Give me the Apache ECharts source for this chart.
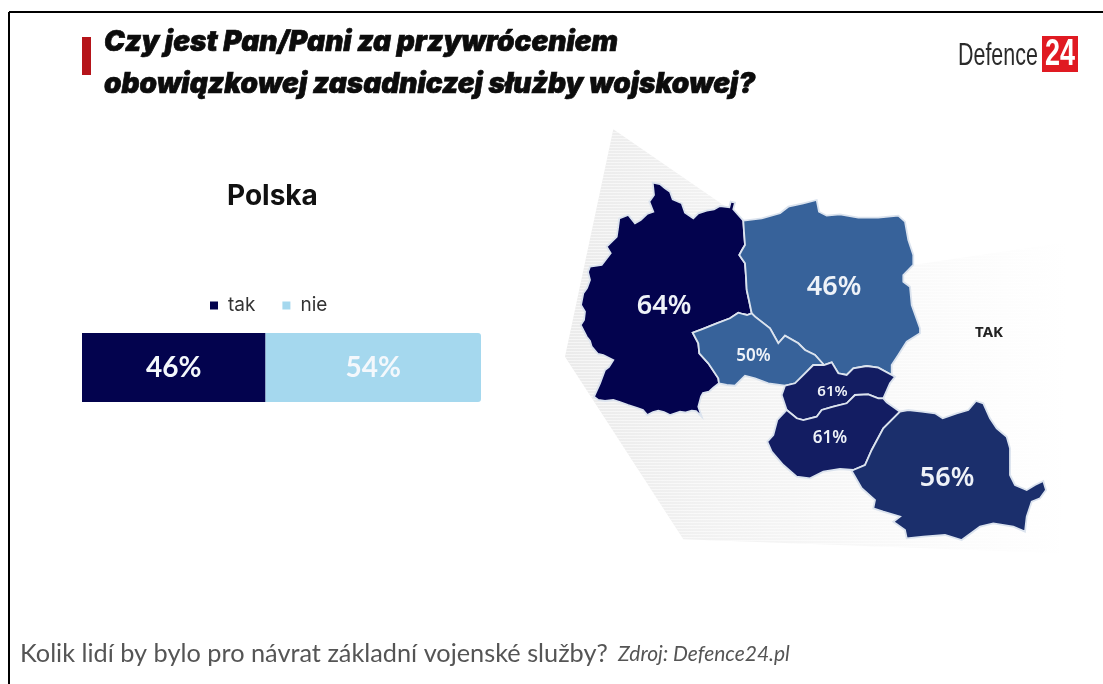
<!DOCTYPE html>
<html><head><meta charset="utf-8">
<style>html,body{margin:0;padding:0;background:#fff}#c{width:1103px;height:684px;filter:blur(0.45px)}</style>
<script src="https://cdn.jsdelivr.net/npm/echarts@6/dist/echarts.min.js"></script>
</head><body><div id="c"></div>
<script>
// --- values
const answers = ['tak', 'nie'];
const polandTak = [46];
const polandNie = [54];
const answerColors = ['#03034e', '#a5d8ee'];
const countries = ['Niemcy', 'Polska', 'Czechy', 'Słowacja', 'Węgry', 'Rumunia'];
const takValues = [64, 46, 50, 61, 61, 56];
const countryColors = ['#03034e', '#37629a', '#37629a', '#131d62', '#131d62', '#1b2f6c'];
const labelSizes = [27, 27, 17, 15, 17, 27];
const titleLines = ['Czy jest Pan/Pani za przywróceniem', 'obowiązkowej zasadniczej służby wojskowej?'];
const caption = 'Kolik lidí by bylo pro návrat základní vojenské služby?';
const source = 'Zdroj: Defence24.pl';

// --- shared borders of the map regions (traced outlines)
const gerPol = [[751.7,313.3],[749.3,301.7],[746.7,290],[746,276.7],[745,263.3],[742,259],[739.3,255],[742,250],[745,245],[744,231.7],[743.3,220.7]];
const gerCze = [[751.7,313.3],[747,315],[742.7,314],[738.3,312.7],[730,318.3],[716.7,323.3],[701.7,329.3],[692.7,332.7],[698.3,343.3],[699.3,353.3],[708.3,363.3],[718.3,378.3],[719,383.3]];
const polCze = [[751.7,313.3],[755,316.7],[770,328.3],[778.3,343.3],[785,335.7],[798.3,343.3],[805,350],[815,355],[824,365]];
const czeSlk = [[824,365],[813.3,365],[805,373.3],[795,383.3],[785,385.7]];
const polSlk = [[824,365],[831.7,362.3],[838.3,373.3],[846.7,375],[853.3,368.3],[866.7,366],[878.3,367.7],[895,376.7]];
const slkHun = [[883.3,398.3],[878.3,398.3],[868.3,394.3],[855,395],[846.7,403.3],[833.3,406.7],[821.7,410],[816.7,416.7],[803.3,420],[796.7,418.3],[786.7,410]];
const hunRom = [[900,411.7],[883.3,428.3],[871.7,450],[865,465],[853.3,470]];
const rev = a => a.slice().reverse();

const outlines = {
  'TAK': [[613.3,129.3],[745,220],[913,265],[1068,242],[1060,553.3],[683.3,539.3],[565,356.7]],
  'Niemcy': [[652.7,182.7],[660,184],[665,188.3],[670,191.7],[672.7,199.3],[681.7,203.3],[685,212.7],[693.3,218.3],[698.3,213.3],[706.7,210.7],[714,209.3],[720,206],[729.3,207.3],[730.7,201.7],[735,202.7],[733.3,209.3],[738.3,215]]
    .concat(rev(gerPol), gerCze.slice(1),
    [[713,388],[709,391.7],[703,393],[701,396.7],[698.3,406.7],[701.7,416.7],[696,411],[691.7,410.7],[685,412.5],[680,411.7],[670,415],[664,412],[658.3,410.7],[653,412],[647.3,415],[643,410],[638.3,408.3],[628.3,405],[620,402],[613.3,400],[605,401],[598.3,400],[594,396.7],[600,383.3],[605,370],[609,367],[613.3,360],[603.3,355],[598,354],[591.7,346.7],[590,341],[586.7,336.7],[580.7,325],[584,320],[585,311.7],[581,305],[583.3,293.3],[587,288],[590,280],[588,272],[590,266.7],[601.7,265],[610.7,253.3],[606.7,246.7],[616.7,236.7],[618,228],[619.3,218.3],[628.3,215],[635,223.3],[640.7,220],[647,214],[653.3,211.7],[649.3,201.7],[654,195]]),
  'Polska': gerPol.concat(
    [[761.7,218.3],[780,213.3],[788.3,206.7],[803.3,203.3],[816.7,200],[819,211.7],[826.7,215.7],[840,214.3],[858.3,217.7],[878.3,217.7],[898.3,215.7],[905,221.7],[908.3,240],[913.3,255],[913.3,265],[903.3,275],[903.3,281.7],[910,286.7],[911.7,305],[920,328.3],[920,333.3],[906.7,341.7],[898.3,355],[891.7,365],[891.7,375]],
    rev(polSlk), rev(polCze).slice(1)),
  'Czechy': polCze.concat(czeSlk.slice(1),
    [[768.3,383.3],[755,378.3],[745,375.7],[735,385.7],[726.7,385]], rev(gerCze).slice(0,-1)),
  'Słowacja': [[781.7,395]].concat(rev(czeSlk), polSlk.slice(1), [[890,383.3],[883.3,398.3]], slkHun.slice(1)),
  'Węgry': slkHun.concat(
    [[777.3,420],[773.3,435],[767.3,441.7],[771.7,451.7],[783.3,465],[796.7,476.7],[810,478.3],[823.3,471.7],[840,469]],
    rev(hunRom), [[886.7,402.3]]),
  'Rumunia': hunRom.concat(
    [[851.7,471],[861.7,488.3],[875,500],[873.3,508.3],[883.3,511.7],[900,516.7],[893.3,521.7],[905,530],[906.7,538.3],[923.3,536.7],[945,535],[961.7,540],[980,526.7],[993.3,523.3],[1013.3,526.7],[1025,531.7],[1026.7,516.7],[1031.7,501.7],[1040,498.3],[1046,490],[1043.3,481],[1035,485],[1026.7,490],[1015,485],[1010,475],[1010,448.3],[1006.7,436.7],[996.7,428.3],[990,418.3],[983.3,403.3],[976,401],[968.3,410],[956.7,413.3],[942.7,418.3],[935,413.3],[921.7,411.7],[908.3,410]])
};
const labelAnchors = {'TAK':[989,333],'Niemcy':[664,306],'Polska':[834,287],'Czechy':[753.5,356],'Słowacja':[832.5,392],'Węgry':[830,438],'Rumunia':[947,478]};

const geojson = {type:'FeatureCollection',features:Object.keys(outlines).map(n=>({
  type:'Feature',properties:{name:n,cp:labelAnchors[n]},
  geometry:{type:'Polygon',coordinates:[outlines[n].concat([outlines[n][0]])]}
}))};
echarts.registerMap('region', geojson);

const chart = echarts.init(document.getElementById('c'), null, {renderer:'canvas'});
const bodyFont = '"Noto Sans", sans-serif';
const barLabel = {show:true, position:'inside', color:'#f4f8fc', fontFamily:'Lato, sans-serif', fontWeight:700, fontSize:28, formatter:'{c}%'};
const titleStyle = {fontFamily:'Inter',fontStyle:'italic',fontWeight:900,fontSize:28,color:'#0c0c0c',textBorderColor:'#0c0c0c',textBorderWidth:0.7};

chart.setOption({
  animation:false,
  backgroundColor:'#ffffff',
  title:[
    {text:titleLines[0],left:104,top:29,padding:0,textStyle:titleStyle},
    {text:titleLines[1],left:104,top:71,padding:0,textStyle:titleStyle},
    {text:'Polska',left:227,top:183,padding:0,textStyle:{fontFamily:'Inter',fontWeight:700,fontSize:28,color:'#111'}}
  ],
  legend:{data:answers,left:210,top:296,padding:0,icon:'rect',itemWidth:8,itemHeight:8,itemGap:27,selectedMode:false,
    textStyle:{fontFamily:'Inter',fontSize:19,color:'#333',padding:[0,0,0,5]}},
  grid:{left:82,width:399,top:333,height:69},
  xAxis:{type:'value',min:0,max:100,show:false},
  yAxis:{type:'category',data:['Polska'],show:false},
  series:[
    {name:answers[0],type:'bar',stack:'p',barWidth:'100%',data:polandTak,itemStyle:{color:answerColors[0]},label:barLabel},
    {name:answers[1],type:'bar',stack:'p',barWidth:'100%',data:polandNie,itemStyle:{color:answerColors[1],borderRadius:[0,3,3,0]},label:barLabel},
    {type:'map',map:'region',projection:{project:p=>p,unproject:p=>p},aspectScale:1,roam:false,silent:true,showLegendSymbol:false,
      left:565,top:129.3,width:503,height:424,
      itemStyle:{borderColor:'#dbe3ee',borderWidth:1.8},
      emphasis:{disabled:true},select:{disabled:true},
      data:[{name:'TAK',value:0,
          itemStyle:{borderWidth:0,decal:{symbol:'rect',symbolSize:1,dashArrayX:[[1,0]],dashArrayY:[1,2],rotation:0,color:'rgba(255,255,255,0.55)'},
            areaColor:{type:'linear',x:0,y:0,x2:1,y2:0,colorStops:[{offset:0,color:'#ebebeb'},{offset:0.35,color:'#f3f3f3'},{offset:0.75,color:'#fbfbfb'},{offset:1,color:'#ffffff'}]}},
          label:{show:true,formatter:'TAK',color:'#222',fontFamily:bodyFont,fontWeight:700,fontSize:15}}]
        .concat(countries.map((n,i)=>({name:n,value:takValues[i],itemStyle:{areaColor:countryColors[i]},
          label:{show:true,formatter:'{c}%',color:'#eef2f8',fontFamily:bodyFont,fontWeight:600,fontSize:labelSizes[i]}})))
    }
  ],
  graphic:[
    {type:'line',shape:{x1:9,y1:12,x2:1103,y2:12},style:{stroke:'#000',lineWidth:2}},
    {type:'line',shape:{x1:9,y1:12,x2:9,y2:684},style:{stroke:'#000',lineWidth:2}},
    {type:'rect',shape:{x:82,y:37,width:9,height:38},style:{fill:'#b5141a'}},
    {type:'text',x:958,y:40,scaleX:0.67,style:{text:'Defence',fontFamily:'"Liberation Sans"',fontSize:32,fill:'#2a2a2a'}},
    {type:'rect',shape:{x:1042,y:36,width:36,height:36},style:{fill:'#e01a22'}},
    {type:'text',x:1045,y:37,scaleX:0.75,style:{text:'24',fontFamily:'"Liberation Sans"',fontWeight:700,fontSize:36,fill:'#fff'}},
    {type:'text',x:20,y:641,style:{text:caption,fontFamily:'Lato',fontSize:25.3,fill:'#555'}},
    {type:'text',x:618,y:644,style:{text:source,fontFamily:'Lato',fontStyle:'italic',fontSize:21,fill:'#555'}}
  ]
});
</script></body></html>
